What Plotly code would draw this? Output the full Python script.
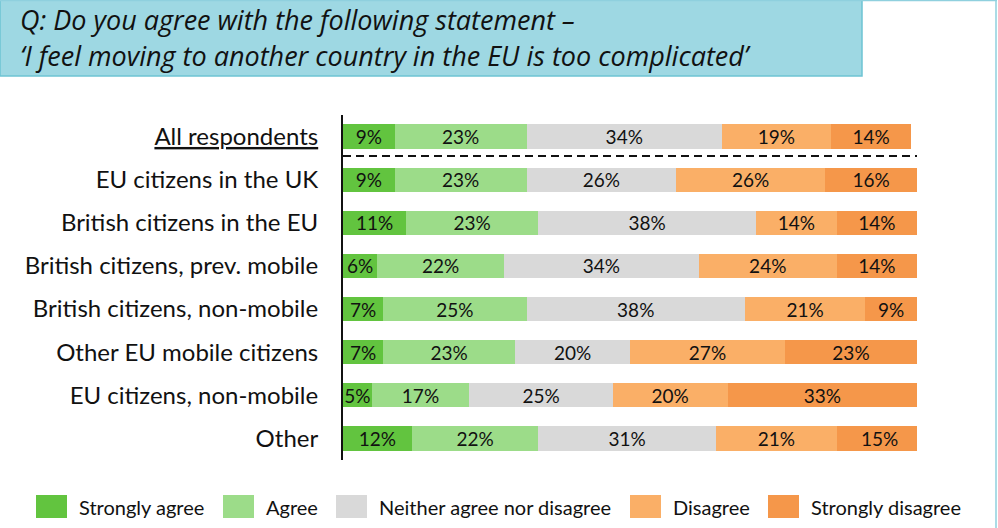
import plotly.graph_objects as go

# Survey groups (top to bottom)
categories = [
    "<u>All respondents</u>",
    "EU citizens in the UK",
    "British citizens in the EU",
    "British citizens, prev. mobile",
    "British citizens, non-mobile",
    "Other EU mobile citizens",
    "EU citizens, non-mobile",
    "Other",
]

# Share of answers per group, in percent
strongly_agree = [9, 9, 11, 6, 7, 7, 5, 12]
agree = [23, 23, 23, 22, 25, 23, 17, 22]
neither = [34, 26, 38, 34, 38, 20, 25, 31]
disagree = [19, 26, 14, 24, 21, 27, 20, 21]
strongly_disagree = [14, 16, 14, 14, 9, 23, 33, 15]

series_names = ["Strongly agree", "Agree", "Neither agree nor disagree",
                "Disagree", "Strongly disagree"]
series_values = [strongly_agree, agree, neither, disagree, strongly_disagree]
series_colors = ["#62C43F", "#9CDC89", "#D9D9D9", "#FAAF67", "#F5974A"]

FONT = "Lato"
TITLE_FONT = "Open Sans"
W, H = 998, 528
M_L, M_R, M_T, M_B = 343, 81, 115, 68
PW, PH = W - M_L - M_R, H - M_T - M_B


def xp(px):
    """Pixel x -> paper x."""
    return (px - M_L) / PW


def yp(py):
    """Pixel y (from top) -> paper y."""
    return (H - M_B - py) / PH


fig = go.Figure()
for name, vals, color in zip(series_names, series_values, series_colors):
    fig.add_trace(go.Bar(
        orientation="h",
        x=vals,
        y=categories,
        name=name,
        marker=dict(color=color, line=dict(width=0)),
        text=[f"{v}%" for v in vals],
        textposition="inside",
        insidetextanchor="middle",
        textangle=0,
        constraintext="none",
        textfont=dict(family=FONT, size=19, color="#111111"),
        showlegend=False,
        hoverinfo="skip",
    ))

shapes = []
annotations = []

# Question header box
shapes.append(dict(type="rect", xref="paper", yref="paper",
                   x0=xp(0), x1=xp(862), y0=yp(0), y1=yp(76),
                   fillcolor="#9ED8E3", line=dict(color="#6EC3D4", width=1.5),
                   layer="below"))
# Slide frame edges
shapes.append(dict(type="line", xref="paper", yref="paper",
                   x0=xp(0), x1=xp(997), y0=yp(0.5), y1=yp(0.5),
                   line=dict(color="#8FD0DE", width=1.5)))
shapes.append(dict(type="line", xref="paper", yref="paper",
                   x0=xp(996), x1=xp(996), y0=yp(0), y1=yp(528),
                   line=dict(color="#8FD0DE", width=1.5)))

annotations.append(dict(xref="paper", yref="paper", x=xp(18), y=yp(19),
                        xanchor="left", yanchor="middle", showarrow=False,
                        text="<i>Q: Do you agree with the following statement –</i>",
                        font=dict(family=TITLE_FONT, size=27, color="#111111")))
annotations.append(dict(xref="paper", yref="paper", x=xp(18), y=yp(56),
                        xanchor="left", yanchor="middle", showarrow=False,
                        text="<i>‘I feel moving to another country in the EU is too complicated’</i>",
                        font=dict(family=TITLE_FONT, size=27, color="#111111")))

# Separator under the overall row
shapes.append(dict(type="line", xref="x", yref="y",
                   x0=0, x1=100, y0=0.45, y1=0.45,
                   line=dict(color="#111111", width=2, dash="8px,5px")))

# Legend drawn as large swatches
legend_x = [36, 223, 336, 630, 768]
for name, color, lx in zip(series_names, series_colors, legend_x):
    shapes.append(dict(type="rect", xref="paper", yref="paper",
                       x0=xp(lx), x1=xp(lx + 31), y0=yp(495), y1=yp(518),
                       fillcolor=color, line=dict(width=0)))
    annotations.append(dict(xref="paper", yref="paper", x=xp(lx + 41), y=yp(507),
                            xanchor="left", yanchor="middle", showarrow=False,
                            text=name,
                            font=dict(family=FONT, size=20, color="#111111")))

fig.update_layout(
    width=W, height=H,
    margin=dict(l=M_L, r=M_R, t=M_T, b=M_B, pad=0),
    barmode="stack",
    bargap=0.44,
    paper_bgcolor="white",
    plot_bgcolor="white",
    shapes=shapes,
    annotations=annotations,
    showlegend=False,
    xaxis=dict(range=[0, 100], visible=False, fixedrange=True),
    yaxis=dict(
        type="category",
        categoryorder="array",
        categoryarray=categories,
        range=[len(categories) - 0.5, -0.5],
        showline=True, linecolor="#111111", linewidth=2,
        showgrid=False, zeroline=False, ticks="",
        ticklabelstandoff=18,
        tickfont=dict(family=FONT, size=24, color="#111111"),
        fixedrange=True,
    ),
)

fig.write_html("out.html", config={"displayModeBar": False})
